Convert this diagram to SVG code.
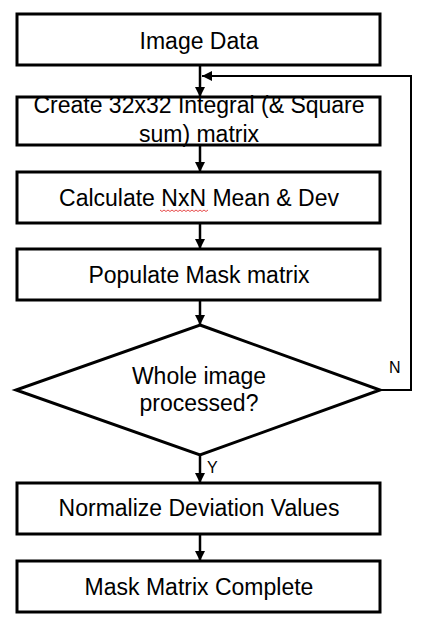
<svg xmlns="http://www.w3.org/2000/svg" width="434" height="634" viewBox="0 0 434 634">
<defs>
<style>
.box{fill:#fff;stroke:#000;stroke-width:3}
.t{font-family:"Liberation Sans",Arial,sans-serif;font-size:23px;fill:#000;text-anchor:middle}
.lbl{font-family:"Liberation Sans",Arial,sans-serif;font-size:16px;fill:#000}
.c{fill:none;stroke:#000;stroke-width:2.5}
.fb{fill:none;stroke:#000;stroke-width:2}
</style>
<marker id="ah" markerWidth="10" markerHeight="10" viewBox="0 0 10 10" refX="10" refY="5" orient="auto" markerUnits="userSpaceOnUse">
<path d="M0,0 L10,5 L0,10 z" fill="#000"/>
</marker>
</defs>
<rect width="434" height="634" fill="#fff"/>
<g id="connectors">
<line class="c" x1="200" y1="65" x2="200" y2="97" marker-end="url(#ah)"/>
<line class="c" x1="200" y1="145" x2="200" y2="172" marker-end="url(#ah)"/>
<line class="c" x1="200" y1="223" x2="200" y2="249" marker-end="url(#ah)"/>
<line class="c" x1="200" y1="300" x2="200" y2="325" marker-end="url(#ah)"/>
<line class="c" x1="200" y1="455" x2="200" y2="483" marker-end="url(#ah)"/>
<line class="c" x1="200" y1="534" x2="200" y2="561" marker-end="url(#ah)"/>
<polyline class="fb" points="380,390 411,390 411,76 202,76" marker-end="url(#ah)"/>
<text class="lbl" x="389" y="373">N</text>
<text class="lbl" x="207" y="473">Y</text>
</g>
<g id="n1">
<rect class="box" x="17" y="14" width="363" height="51"/>
<text class="t" x="199" y="49">Image Data</text>
</g>
<g id="n2">
<rect class="box" x="17" y="97" width="363" height="48"/>
<text class="t" x="199" y="113">Create 32x32 Integral (&amp; Square</text>
<text class="t" x="199" y="142">sum) matrix</text>
</g>
<g id="n3">
<rect class="box" x="17" y="172" width="363" height="51"/>
<text class="t" x="199" y="206">Calculate NxN Mean &amp; Dev</text>
<path d="M160,210 l2,1.5 l2,-1.5 l2,1.5 l2,-1.5 l2,1.5 l2,-1.5 l2,1.5 l2,-1.5 l2,1.5 l2,-1.5 l2,1.5 l2,-1.5 l2,1.5 l2,-1.5 l2,1.5 l2,-1.5 l2,1.5 l2,-1.5 l2,1.5 l2,-1.5 l2,1.5 l2,-1.5 l2,1.5 l2,-1.5" fill="none" stroke="#e02020" stroke-width="0.8"/>
</g>
<g id="n4">
<rect class="box" x="17" y="249" width="363" height="51"/>
<text class="t" x="199" y="283">Populate Mask matrix</text>
</g>
<g id="n5">
<polygon class="box" points="200,325 380,390 200,455 16,390"/>
<text class="t" x="199" y="384">Whole image</text>
<text class="t" x="199" y="411">processed?</text>
</g>
<g id="n6">
<rect class="box" x="17" y="483" width="363" height="51"/>
<text class="t" x="199" y="516">Normalize Deviation Values</text>
</g>
<g id="n7">
<rect class="box" x="17" y="561" width="363" height="51"/>
<text class="t" x="199" y="595">Mask Matrix Complete</text>
</g>
</svg>
